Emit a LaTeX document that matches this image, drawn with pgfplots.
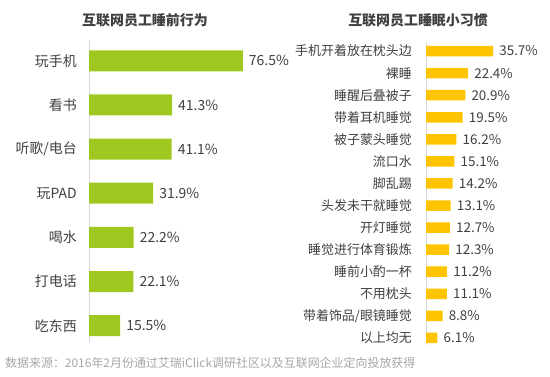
\documentclass[border=0pt]{standalone}
\usepackage{pgfplots}
\pgfplotsset{compat=1.18}
\usepackage{fontspec}
\setmainfont{Noto Sans CJK SC}
\definecolor{barG}{RGB}{158,200,32}
\definecolor{barY}{RGB}{254,196,0}
\definecolor{txt}{RGB}{64,64,64}
\definecolor{axl}{RGB}{217,217,217}
\definecolor{foot}{RGB}{166,166,166}
\begin{document}
\begin{tikzpicture}[x=1bp,y=1bp]
\useasboundingbox (0,0) rectangle (550,376);
\pgfplotsset{
  hb/.style={
    anchor=south west, scale only axis, clip=false,
    xbar, bar shift=0pt, y dir=reverse,
    axis x line=none, axis y line*=left,
    axis line style={draw=axl, line width=1pt},
    major tick length=0pt, ytick style={draw=none},
    /pgf/number format/assume math mode=true,
    yticklabel style={inner sep=0pt, text=txt},
    nodes near coords={\pgfmathprintnumber[fixed,fixed zerofill,precision=1]{\pgfplotspointmeta}\%},
    nodes near coords style={anchor=west, inner sep=0pt, xshift=6bp, text=txt},
  }
}
\begin{axis}[hb,
  at={(89bp,34bp)}, width=201bp, height=302bp,
  xmin=0, xmax=100, ymin=-0.47, ymax=6.37,
  bar width=21bp,
  ytick={0,...,6},
  yticklabels={玩手机,看书,听歌/电台,玩PAD,喝水,打电话,吃东西},
  yticklabel shift=12bp,
  yticklabel style={font=\fontsize{14}{16}\selectfont},
  nodes near coords style={font=\fontsize{14}{16}\selectfont},
]
\addplot[fill=barG, draw=none] coordinates {
(76.5,0) (41.3,1) (41.1,2) (31.9,3) (22.2,4) (22.1,5) (15.5,6)};
\end{axis}
\begin{axis}[hb,
  at={(426bp,31bp)}, width=75.2bp, height=303bp,
  xmin=0, xmax=40, ymin=-0.41, ymax=13.32,
  bar width=10.5bp,
  ytick={0,...,13},
  yticklabels={手机开着放在枕头边,裸睡,睡醒后叠被子,带着耳机睡觉,被子蒙头睡觉,流口水,脚乱踢,头发未干就睡觉,开灯睡觉,睡觉进行体育锻炼,睡前小酌一杯,不用枕头,带着饰品/眼镜睡觉,以上均无},
  yticklabel shift=14bp,
  yticklabel style={font=\fontsize{13}{14}\selectfont},
  nodes near coords style={font=\fontsize{13.5}{15}\selectfont},
]
\addplot[fill=barY, draw=none] coordinates {
(35.7,0) (22.4,1) (20.9,2) (19.5,3) (16.2,4) (15.1,5) (14.2,6) (13.1,7) (12.7,8) (12.3,9) (11.2,10) (11.1,11) (8.8,12) (6.1,13)};
\end{axis}
\node[font=\bfseries\fontsize{14}{16}\selectfont, text=txt] at (145,356) {互联网员工睡前行为};
\node[font=\bfseries\fontsize{14}{16}\selectfont, text=txt] at (418,356) {互联网员工睡眠小习惯};
\node[anchor=west, inner sep=0pt, font=\fontsize{12}{13}\selectfont, text=foot] at (5,13) {数据来源：2016年2月份通过艾瑞iClick调研社区以及互联网企业定向投放获得};
\end{tikzpicture}
\end{document}
